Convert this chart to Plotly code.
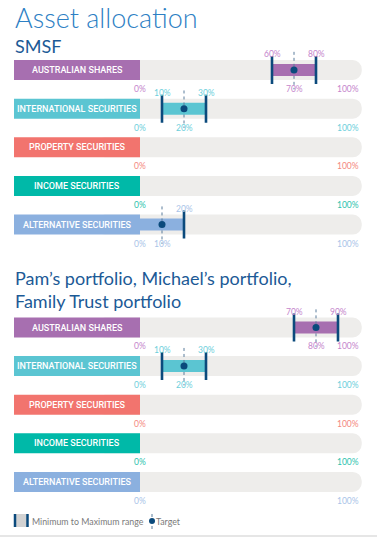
import plotly.graph_objects as go

# ---------------- data ----------------
categories = ["AUSTRALIAN SHARES", "INTERNATIONAL SECURITIES", "PROPERTY SECURITIES",
              "INCOME SECURITIES", "ALTERNATIVE SECURITIES"]
smsf_min = [60, 10, None, None, 0]
smsf_max = [80, 30, None, None, 20]
smsf_target = [70, 20, None, None, 10]
family_min = [70, 10, None, None, None]
family_max = [90, 30, None, None, None]
family_target = [80, 20, None, None, None]
scale_min = 0
scale_max = 100

sections = [
    ("SMSF", smsf_min, smsf_max, smsf_target),
    ("Pam\u2019s portfolio, Michael\u2019s portfolio,<br>Family Trust portfolio", family_min, family_max, family_target),
]

# ---------------- style ----------------
row_colors = ["#a76fb0", "#5bc5d2", "#f2746e", "#00b9a8", "#8bb0df"]
tick_colors = ["#c585cc", "#6dcfdb", "#f4877e", "#2cc3ad", "#a9c4e8"]
navy = "#0b4a7c"
track_color = "#eeedeb"
LABEL_START = -57.27
X_RANGE = [-63.64, 107.73]
TRACK_W = 0.517
FILL_W = 0.31
Y_DOMAINS = [[0.54577, 0.90564], [0.06667, 0.42607]]
label_font = "Roboto, Liberation Sans, sans-serif"
num_font = "Lato, Open Sans, sans-serif"

fig = go.Figure()
annotations = []
rows = list(range(len(categories)))

for s, (title, mins, maxs, targets) in enumerate(sections):
    xa = "x" if s == 0 else "x2"
    ya = "y" if s == 0 else "y2"
    yref = "y" if s == 0 else "y2"
    xref = "x" if s == 0 else "x2"
    # grey track (rounded right end)
    fig.add_trace(go.Bar(orientation="h", y=rows, base=[-20] * 5,
                         x=[scale_max + 0.8 + 20] * 5, width=TRACK_W,
                         marker=dict(color=track_color, line=dict(width=0), cornerradius=10),
                         xaxis=xa, yaxis=ya, hoverinfo="skip", showlegend=False))
    # label box
    fig.add_trace(go.Bar(orientation="h", y=rows, base=[LABEL_START] * 5,
                         x=[scale_min - LABEL_START] * 5, width=TRACK_W,
                         marker=dict(color=row_colors, line=dict(width=0)),
                         xaxis=xa, yaxis=ya, hoverinfo="skip", showlegend=False))
    # range fill
    ry, rb, rx, rc = [], [], [], []
    for i in rows:
        if mins[i] is not None:
            ry.append(i); rb.append(mins[i]); rx.append(maxs[i] - mins[i]); rc.append(row_colors[i])
    fig.add_trace(go.Bar(orientation="h", y=ry, base=rb, x=rx, width=FILL_W,
                         marker=dict(color=rc, line=dict(width=0)),
                         xaxis=xa, yaxis=ya, hoverinfo="skip", showlegend=False))
    # caps
    cx, cy = [], []
    for i in rows:
        if mins[i] is not None:
            for v in (mins[i], maxs[i]):
                if v > scale_min:
                    cx.append(v); cy.append(i)
    fig.add_trace(go.Scatter(x=cx, y=cy, mode="markers",
                             marker=dict(symbol="line-ns", size=20, line=dict(width=2.6, color=navy)),
                             xaxis=xa, yaxis=ya, hoverinfo="skip", showlegend=False))
    # target dotted lines
    lx, ly = [], []
    for i in rows:
        if targets[i] is not None:
            lx += [targets[i], targets[i], None]
            ly += [i - 0.47, i + 0.5, None]
    fig.add_trace(go.Scatter(x=lx, y=ly, mode="lines",
                             line=dict(color="#5a7c9c", width=1, dash="dot"),
                             xaxis=xa, yaxis=ya, hoverinfo="skip", showlegend=False))
    fig.add_trace(go.Scatter(x=[targets[i] for i in rows if targets[i] is not None],
                             y=[i for i in rows if targets[i] is not None], mode="markers",
                             marker=dict(symbol="circle", size=7, color=navy),
                             xaxis=xa, yaxis=ya, hoverinfo="skip", showlegend=False))
    # text annotations
    for i in rows:
        annotations.append(dict(x=(LABEL_START + scale_min) / 2, y=i, xref=xref, yref=yref,
                                text=categories[i], showarrow=False,
                                font=dict(family=label_font, size=9, color="white", weight=500)))
        tc = tick_colors[i]
        fnt = dict(family=num_font, size=8.5, color=tc)
        # below labels
        annotations.append(dict(x=scale_min, y=i + 0.49, xref=xref, yref=yref, text=f"{scale_min}%",
                                showarrow=False, font=fnt, xanchor="center"))
        annotations.append(dict(x=scale_max + 0.45, y=i + 0.49, xref=xref, yref=yref, text=f"{scale_max}%",
                                showarrow=False, font=fnt, xanchor="right"))
        if targets[i] is not None:
            annotations.append(dict(x=targets[i], y=i + 0.49, xref=xref, yref=yref, text=f"{targets[i]}%",
                                    showarrow=False, font=fnt, xanchor="center"))
        if mins[i] is not None:
            for v in (mins[i], maxs[i]):
                if v > scale_min:
                    annotations.append(dict(x=v, y=i - 0.41, xref=xref, yref=yref, text=f"{v}%",
                                            showarrow=False, font=fnt, xanchor="center"))

# titles
H = 537.0
title_font = "Lato, Open Sans, sans-serif"
annotations.append(dict(x=13 / 377, y=1 - 17 / H, xref="paper", yref="paper", xanchor="left",
                        yanchor="middle", text="Asset allocation", showarrow=False,
                        font=dict(family=title_font, size=27, color="#2d80c4", weight=300)))
annotations.append(dict(x=13 / 377, y=1 - 46 / H, xref="paper", yref="paper", xanchor="left",
                        yanchor="middle", text=sections[0][0], showarrow=False,
                        font=dict(family=title_font, size=18, color="#1c5a96")))
annotations.append(dict(x=13 / 377, y=1 - 289 / H, xref="paper", yref="paper", xanchor="left",
                        yanchor="middle", align="left", text=sections[1][0], showarrow=False,
                        font=dict(family=title_font, size=18, color="#1c5a96")))

# legend
annotations.append(dict(x=30 / 377, y=1 - 521 / H, xref="paper", yref="paper", xanchor="left",
                        yanchor="middle", text="Minimum to Maximum range", showarrow=False,
                        font=dict(family=num_font, size=8.8, color="#7a7a7a")))
annotations.append(dict(x=154 / 377, y=1 - 521 / H, xref="paper", yref="paper", xanchor="left",
                        yanchor="middle", text="Target", showarrow=False,
                        font=dict(family=num_font, size=8.8, color="#7a7a7a")))
shapes = [
    dict(type="rect", xref="paper", yref="paper", x0=14 / 377, x1=28 / 377, y0=1 - 527 / H, y1=1 - 514 / H,
         fillcolor="#d2d2d2", line=dict(width=0)),
    dict(type="line", xref="paper", yref="paper", x0=15 / 377, x1=15 / 377, y0=1 - 527 / H, y1=1 - 514 / H,
         line=dict(color=navy, width=2.5)),
    dict(type="line", xref="paper", yref="paper", x0=27.5 / 377, x1=27.5 / 377, y0=1 - 527 / H, y1=1 - 514 / H,
         line=dict(color=navy, width=2.5)),
    dict(type="line", xref="paper", yref="paper", x0=152 / 377, x1=152 / 377, y0=1 - 529 / H, y1=1 - 513 / H,
         line=dict(color="#5a7c9c", width=1, dash="dot")),
    dict(type="circle", xref="paper", yref="paper", x0=149 / 377, x1=155 / 377, y0=1 - 524 / H, y1=1 - 518 / H,
         fillcolor=navy, line=dict(width=0)),
    dict(type="line", xref="paper", yref="paper", x0=0, x1=1, y0=1 - 536 / H, y1=1 - 536 / H,
         line=dict(color="#e6e6e6", width=2)),
]

fig.update_layout(
    width=377, height=537, margin=dict(l=0, r=0, t=0, b=0),
    paper_bgcolor="white", plot_bgcolor="white", barmode="overlay",
    xaxis=dict(range=X_RANGE, domain=[0, 1], visible=False, anchor="y", fixedrange=True),
    xaxis2=dict(range=X_RANGE, domain=[0, 1], visible=False, anchor="y2", fixedrange=True),
    yaxis=dict(range=[4.5, -0.5], domain=Y_DOMAINS[0], visible=False, anchor="x", fixedrange=True),
    yaxis2=dict(range=[4.5, -0.5], domain=Y_DOMAINS[1], visible=False, anchor="x2", fixedrange=True),
    annotations=annotations, shapes=shapes, showlegend=False,
)

fig.write_html("out.html", config={"displayModeBar": False})
